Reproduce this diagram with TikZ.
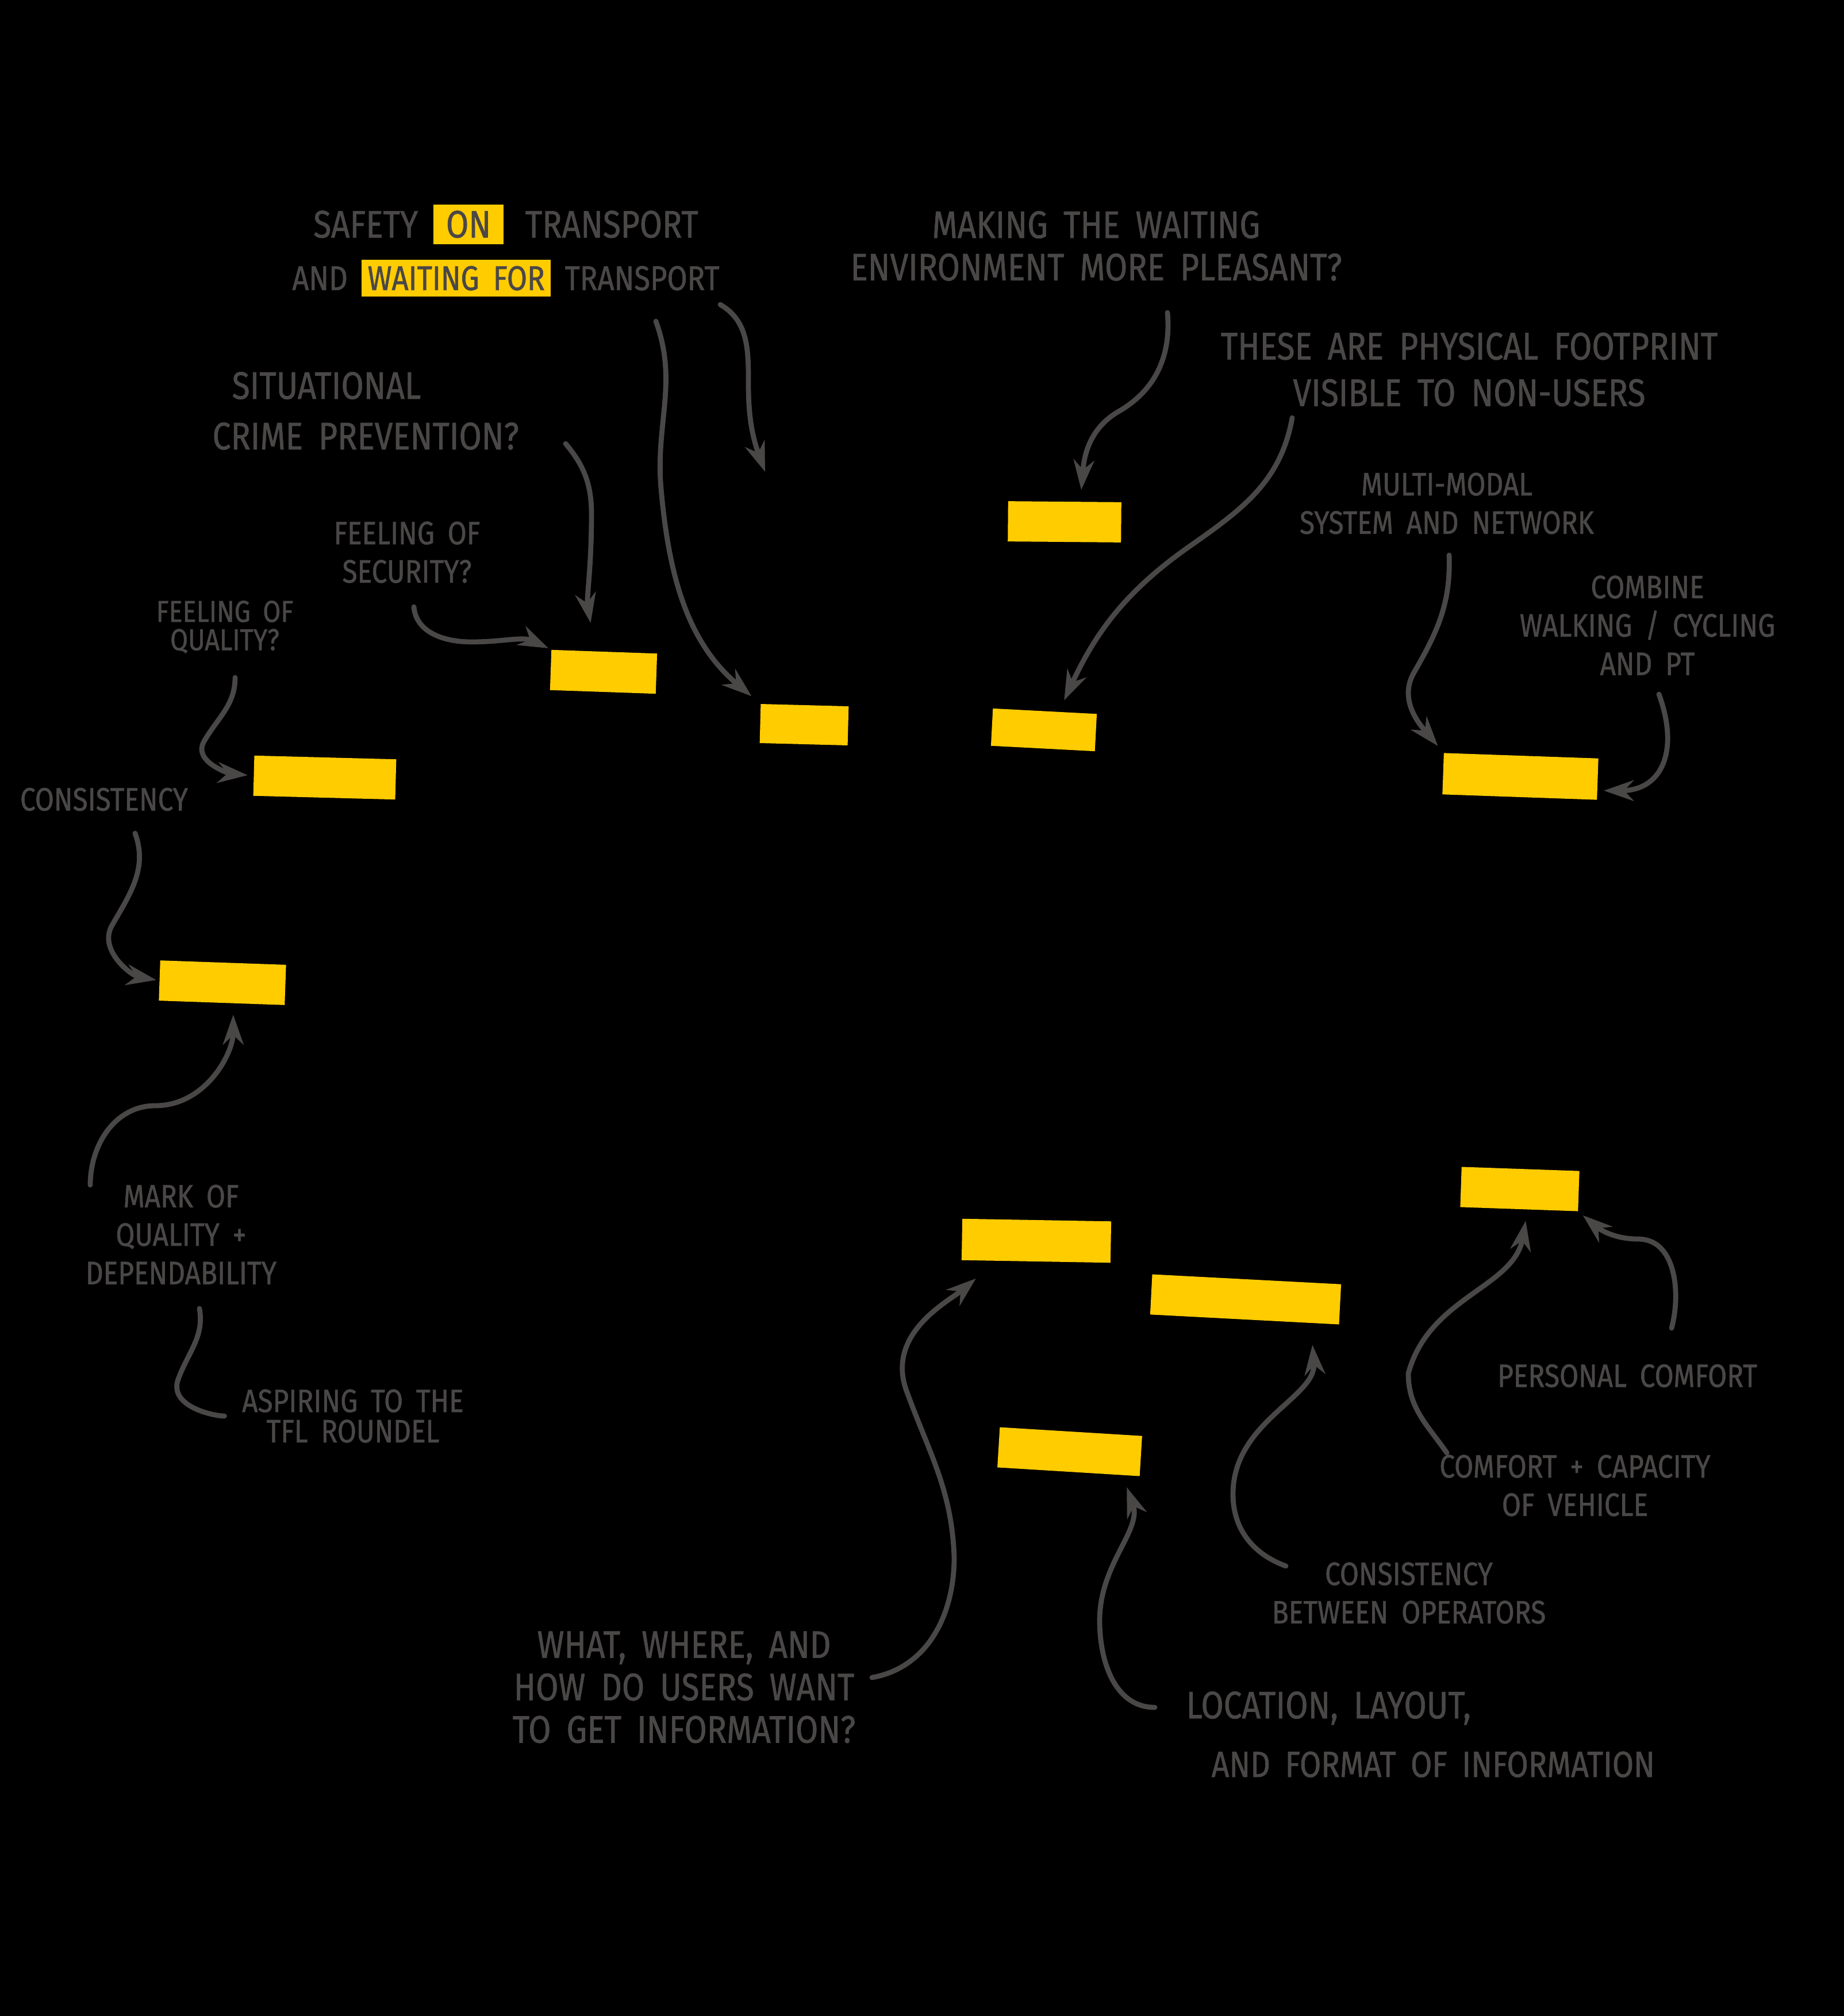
\documentclass[tikz,border=0pt]{standalone}
\usepackage{fontspec}
\setmainfont[FakeStretch=0.85, WordSpace=1.8, FakeBold=1]{Fira Sans}
\usepackage{tikz}
\usetikzlibrary{arrows.meta}
\definecolor{tflyellow}{RGB}{255,204,0}
\definecolor{inkgrey}{RGB}{74,71,71}
\newcommand{\hilite}[1]{{\setlength{\fboxsep}{3pt}\colorbox{tflyellow}{#1}}}

\begin{document}
\begin{tikzpicture}[
    lbl/.style={text=inkgrey, align=center, inner sep=0pt,
                font=\fontsize{19}{23}\selectfont},
    lbls/.style={lbl, font=\fontsize{16}{19}\selectfont},
    hl/.style={fill=tflyellow, inner sep=0pt},
    arr/.style={draw=inkgrey, line width=2.5pt, line cap=round,
                -{Stealth[length=5.2mm, width=3.6mm]}, shorten >=2mm},
    link/.style={draw=inkgrey, line width=2.5pt, line cap=round}
]
    \fill[black] (0,0) rectangle (32.08,-35.08);
    \foreach \n/\x/\y/\w/\h/\r in {
        b1/18.52/-9.08/1.97/0.70/-0.5,
        b2/10.50/-11.69/1.84/0.70/-2,
        b3/13.99/-12.61/1.53/0.68/-1.5,
        b4/18.16/-12.70/1.81/0.65/-3,
        b5/26.45/-13.51/2.69/0.72/-2,
        b6/5.65/-13.53/2.47/0.70/-1.5,
        b7/3.87/-17.10/2.19/0.70/-2,
        b8/26.44/-20.69/2.05/0.70/-2,
        b9/18.03/-21.59/2.59/0.72/-1,
        b10/21.67/-22.61/3.29/0.70/-3,
        b11/18.61/-25.26/2.48/0.70/-3.5
    }{
        \node[hl, minimum width=\w cm, minimum height=\h cm, rotate=\r] (\n) at (\x,\y) {};
    }
    \node[lbl] (safety) at (8.80,-4.36)
        {SAFETY \hilite{\,ON\,} \,TRANSPORT\\[3pt]{\fontsize{17}{23}\selectfont AND \hilite{WAITING FOR} TRANSPORT}};
    \node[lbl] (making) at (19.07,-4.28)
        {MAKING THE WAITING\\[-2pt]ENVIRONMENT MORE PLEASANT?};
    \node[lbl] (these) at (25.56,-6.43)
        {THESE ARE PHYSICAL FOOTPRINT\\VISIBLE TO NON-USERS};
    \node[lbl, align=left, anchor=west] (crime) at (3.69,-7.15)
        {\hspace*{0.34cm}SITUATIONAL\\[2pt]CRIME PREVENTION?};
    \node[lbls] (security) at (7.08,-9.61) {FEELING OF\\SECURITY?};
    \node[lbls, font=\fontsize{15}{17}\selectfont] (quality) at (3.91,-10.91) {FEELING OF\\[-3pt]QUALITY?};
    \node[lbls] (consist) at (1.81,-13.91) {CONSISTENCY};
    \node[lbls] (mark) at (3.15,-21.48) {MARK OF\\QUALITY +\\DEPENDABILITY};
    \node[lbls] (aspire) at (6.14,-24.64) {ASPIRING TO THE\\[-4pt]TFL ROUNDEL};
    \node[lbls] (multi) at (25.17,-8.76) {MULTI-MODAL\\SYSTEM AND NETWORK};
    \node[lbls] (combine) at (28.66,-10.88) {COMBINE\\WALKING / CYCLING\\AND PT};
    \node[lbls] (personal) at (28.31,-23.94) {PERSONAL COMFORT};
    \node[lbls] (capacity) at (27.40,-25.85) {COMFORT + CAPACITY\\OF VEHICLE};
    \node[lbls] (between) at (24.51,-27.72) {CONSISTENCY\\BETWEEN OPERATORS};
    \node[lbl] (what) at (11.90,-29.36)
        {WHAT, WHERE, AND\\[-2pt]HOW DO USERS WANT\\[-2pt]TO GET INFORMATION?};
    \node[lbl, align=left, anchor=west] (location) at (20.63,-30.18)
        {LOCATION, LAYOUT,\\[6pt]\hspace*{0.44cm}{\fontsize{18}{23}\selectfont AND FORMAT OF INFORMATION}};

    \coordinate (safetyA) at (12.53,-5.30);
    \coordinate (safetyB) at (11.41,-5.59);
    \coordinate (nowhere) at (13.31,-8.21);
    \coordinate (makingA) at (20.31,-5.44);
    \coordinate (theseA) at (22.48,-7.27);
    \coordinate (crimeA) at (9.84,-7.72);
    \coordinate (securityA) at (7.20,-10.56);
    \coordinate (qualityA) at (4.09,-11.79);
    \coordinate (consistA) at (2.35,-14.50);
    \coordinate (markA) at (1.57,-20.62);
    \coordinate (markB) at (3.47,-22.77);
    \coordinate (multiA) at (25.21,-9.66);
    \coordinate (combineA) at (28.86,-12.08);
    \coordinate (personalA) at (29.08,-23.11);
    \coordinate (capacityA) at (25.17,-25.28);
    \coordinate (betweenA) at (22.37,-27.25);
    \coordinate (whatA) at (15.17,-29.19);
    \coordinate (locationA) at (20.09,-29.71);

    \draw[arr, shorten >=0pt] (safetyA) to[out=-30,in=90] (13.02,-6.7) to[out=-90,in=110] (nowhere);
    \draw[arr] (safetyB) to[out=-70,in=95] (11.5,-8.5) to[out=-85,in=140] (b3.north west);
    \draw[arr] (makingA) to[out=-85,in=30] (19.46,-7.16) to[out=-150,in=85] ([xshift=2.7mm]b1.north);
    \draw[arr] (theseA) to[out=-100,in=35] (20.69,-9.51) to[out=-145,in=65] ([xshift=2.5mm]b4.north);
    \draw[arr, shorten >=5mm] (crimeA) to[out=-50,in=90] (10.29,-8.95) to[out=-90,in=100] ([xshift=-1.5mm]b2.north);
    \draw[arr, shorten >=0.5mm] (securityA) to[out=-85,in=180] (8.2,-11.17) to[out=0,in=155] (b2.north west);
    \draw[arr, shorten >=1mm] (qualityA) to[out=-90,in=60] (3.55,-12.9) to[out=-120,in=175] (b6.west);
    \draw[arr, shorten >=0.5mm] (consistA) to[out=-70,in=60] (1.95,-16.1) to[out=-120,in=170] (b7.west);
    \draw[arr] (markA) to[out=90,in=180] (2.7,-19.24) to[out=0,in=-90] ([xshift=2mm]b7.south);
    \draw[link, shorten >=3mm] (markB) to[out=-80,in=70] (3.1,-24.0) to[out=-110,in=180] (aspire.west);
    \draw[arr, shorten >=1.5mm] (multiA) to[out=-88,in=60] (24.6,-11.7) to[out=-120,in=130] (b5.north west);
    \draw[arr, shorten >=1mm] (combineA) to[out=-70,in=0,looseness=1.4] ([yshift=-2mm]b5.east);
    \draw[arr, shorten >=1mm] (personalA) to[out=75,in=0] (28.5,-21.56) to[out=180,in=-40] (b8.south east);
    \draw[arr] (capacityA) to[out=125,in=-90] (24.5,-23.9) to[out=75,in=-100] ([xshift=1.5mm]b8.south);
    \draw[arr, shorten >=3.5mm] (betweenA) to[out=160,in=-90] (21.45,-26.0) to[out=90,in=-85] ([xshift=-5mm]b10.south east);
    \draw[arr, shorten >=4.5mm] (whatA) to[out=10,in=-90] (16.6,-27.1) to[out=92,in=-70] (15.77,-24.2) to[out=110,in=-140] ([xshift=-7mm]b9.south);
    \draw[arr] (locationA) to[out=180,in=-90] (19.13,-28.2) to[out=90,in=-70] ([xshift=-3mm]b11.south east);
\end{tikzpicture}
\end{document}
